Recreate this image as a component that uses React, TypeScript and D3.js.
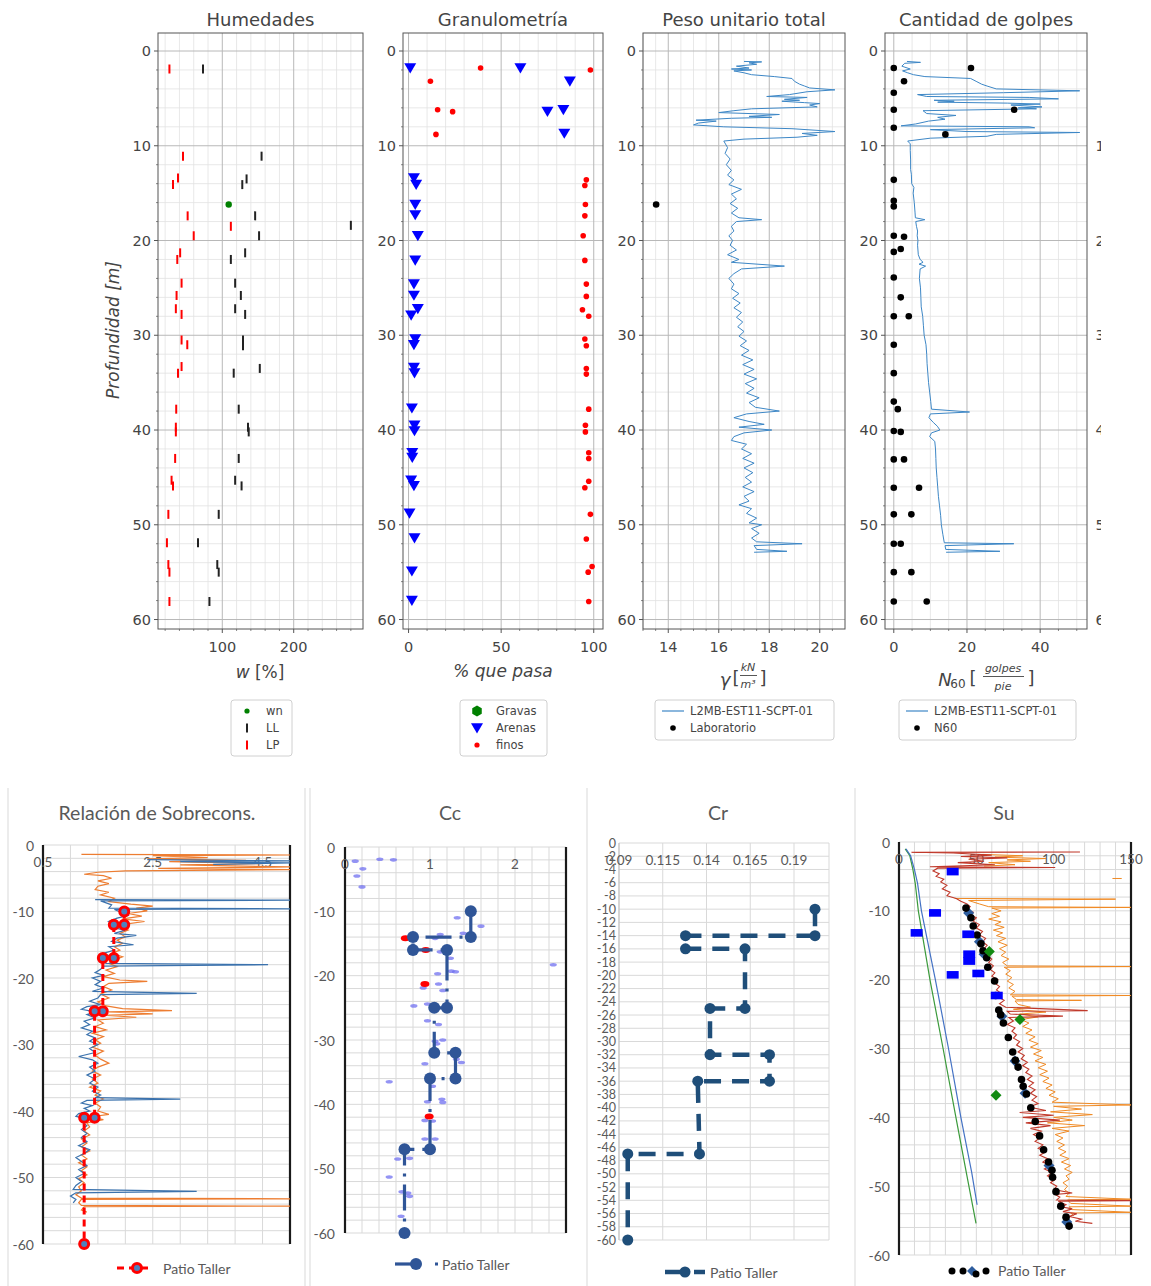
import React from "react";
import * as d3 from "d3";

type P = [number, number];
type G = P | null;

// ================= TOP ROW DATA =================
// markers: [value, depth m]
const humLL: P[] = [[73,1.9],[155,11.1],[134,13.5],[128,14.1],[146,17.4],[280,18.4],[151.5,19.5],[132,21.3],[112,22],[118,24.5],[126,25.8],[118,27.2],[132,27.8],[129,30.5],[129,31.1],[152.5,33.5],[116,34],[123,37.8],[136,39.7],[137,40.2],[123,43],[118,45.3],[127,45.9],[95,48.9],[66,51.9],[93,54.2],[95,55],[82,58.1]];
const humLP: P[] = [[26,1.9],[45,11.1],[38,13.4],[31,14.1],[51.5,17.4],[112,18.5],[60,19.5],[41,21.3],[37,22],[43,24.5],[36,25.8],[35,27.2],[43,27.8],[43,30.5],[51,31],[43,33.3],[38,34],[35.5,37.8],[35,39.7],[35,40.2],[34,43],[29,45.3],[31,45.9],[24.5,48.9],[22.5,51.9],[24.5,54.2],[26,55],[26,58.1]];
const humWn: P[] = [[109,16.2]];

const granArenas: P[] = [[0.9,1.8],[60.4,1.8],[87.1,3.2],[75,6.4],[83.6,6.2],[84.1,8.7],[2.9,13.4],[4.1,14.1],[3.6,16.2],[3.6,17.3],[5,19.5],[3.6,22.1],[2.9,24.6],[2.9,25.8],[5,27.2],[1.4,27.9],[3.6,30.4],[2.9,31],[2.9,33.4],[3.2,34],[1.8,37.7],[3.2,39.5],[3.2,40.1],[2,42.4],[2,42.9],[1.4,45.3],[2.9,45.9],[0.5,48.8],[3.2,51.4],[1.8,54.9],[1.8,58]];
const granFinos: P[] = [[38.9,1.8],[98.2,2],[11.8,3.2],[15.7,6.2],[23.8,6.4],[14.8,8.8],[96,13.6],[95.2,14.2],[95.5,16.2],[95.2,17.4],[94.3,19.5],[95.2,22.1],[96,24.6],[96,25.9],[93.9,27.3],[97.3,28],[95.2,30.4],[96,31.1],[96,33.5],[96,34.1],[97.3,37.8],[95.5,39.5],[95.5,40.2],[97.3,42.4],[97.3,43],[97.3,45.4],[95.2,46.1],[98.2,48.9],[96,51.5],[99.1,54.4],[97,55],[97.3,58.1]];

const gammaLab: P[] = [[13.52,16.2]];
const n60Dots: P[] = [[0,1.8],[21.1,1.8],[2.8,3.2],[0,4.4],[0,6.2],[32.9,6.2],[0,8.1],[14.1,8.8],[0,13.6],[0,15.8],[0,16.4],[0,19.5],[2.8,19.6],[1.9,20.9],[0,21.2],[0,23.9],[1.9,26],[0,28],[4.1,28],[0,31],[0,34],[0,37],[1.1,37.8],[0,40.1],[1.9,40.2],[0,43.1],[2.8,43.1],[0,46.1],[6.9,46.1],[0,48.9],[4.8,48.9],[0,52],[1.9,52],[0,55],[4.8,55],[0,58.1],[9,58.1]];

// profiles: [depth m, value]
const gammaProfile: P[] = [[1.1,17.0],[1.15,17.7],[1.25,17.2],[1.4,17.5],[1.6,16.7],[1.8,17.2],[1.9,16.5],[2.0,17.3],[2.1,16.6],[2.3,17.0],[2.5,17.3],[2.7,18.2],[2.9,18.9],[3.2,19.0],[3.5,19.2],[3.7,19.4],[3.9,19.6],[4.1,20.6],[4.3,19.5],[4.6,18.8],[4.8,17.9],[4.9,19.5],[5.1,18.6],[5.2,19.2],[5.3,18.5],[5.45,19.4],[5.55,20.0],[5.7,19.6],[5.9,19.9],[6.1,17.3],[6.3,16.6],[6.5,16.0],[6.7,18.4],[6.9,17.2],[7.0,18.1],[7.1,16.5],[7.3,15.1],[7.4,15.9],[7.6,15.2],[7.8,15.0],[8.0,16.2],[8.2,18.9],[8.5,20.6],[8.7,19.3],[8.9,19.9],[9.1,19.1],[9.3,17.0],[9.5,16.2],[10.2,16.35],[10.8,16.25],[11.4,16.45],[12.0,16.3],[12.6,16.5],[13.1,16.35],[13.6,16.6],[14.1,16.4],[14.6,16.9],[15.1,16.5],[15.6,16.7],[16.1,16.45],[16.6,16.75],[17.1,16.5],[17.6,16.8],[17.8,17.7],[18.0,16.7],[18.5,16.5],[19.0,16.6],[19.5,16.4],[20.0,16.55],[20.5,16.45],[21.0,16.7],[21.5,16.35],[22.0,16.8],[22.3,16.5],[22.7,18.6],[23.0,16.9],[23.5,16.6],[24.0,16.4],[24.6,16.6],[25.1,16.5],[25.6,16.8],[26.1,16.55],[26.6,16.85],[27.1,16.6],[27.6,16.9],[28.1,16.7],[28.6,16.95],[29.1,16.75],[29.6,17.0],[30.1,16.8],[30.6,17.1],[31.1,16.85],[31.6,17.2],[32.1,16.9],[32.6,17.35],[33.1,16.95],[33.6,17.4],[34.1,17.0],[34.6,17.5],[35.1,17.05],[35.6,17.4],[36.1,17.1],[36.6,17.6],[37.1,17.2],[37.6,17.45],[38.0,18.4],[38.3,17.1],[38.7,16.6],[39.1,17.2],[39.4,17.8],[39.7,16.8],[40.0,18.1],[40.3,17.0],[40.7,16.6],[41.1,16.5],[41.5,17.1],[42.0,16.9],[42.5,17.3],[43.0,16.95],[43.5,17.4],[44.0,17.0],[44.5,17.35],[45.0,17.05],[45.5,17.3],[46.0,16.95],[46.5,17.4],[47.0,17.0],[47.5,17.2],[47.9,16.8],[48.3,17.3],[48.8,17.1],[49.3,17.5],[49.8,17.2],[50.0,17.7],[50.4,17.3],[50.9,17.6],[51.4,17.3],[51.8,17.5],[52.0,19.3],[52.2,17.4],[52.6,17.5],[52.8,18.7],[52.9,17.4]];

const n60Profile: P[] = [[1.1,3.6],[1.2,7.3],[1.3,3.0],[1.6,2.2],[1.9,4.5],[2.1,2.4],[2.3,3.8],[2.5,5.4],[2.7,8.5],[2.9,21.0],[3.2,22.5],[3.5,24.0],[3.7,25.5],[4.0,28.0],[4.2,50.8],[4.4,30.0],[4.6,6.5],[4.8,9.0],[4.9,37.0],[5.05,45.0],[5.2,11.0],[5.3,16.5],[5.4,12.0],[5.5,31.0],[5.6,40.0],[5.7,32.0],[5.9,40.5],[6.0,34.0],[6.1,39.0],[6.3,8.0],[6.6,9.0],[6.8,17.0],[7.0,12.0],[7.2,14.0],[7.4,9.5],[7.7,6.0],[7.9,2.0],[8.0,37.0],[8.1,38.5],[8.3,10.0],[8.5,20.0],[8.6,50.8],[8.8,28.0],[9.0,25.5],[9.2,10.0],[9.5,3.8],[9.8,4.5],[10.5,4.5],[11.5,4.6],[12.5,4.6],[13.0,4.8],[14.0,4.9],[14.4,5.5],[15.0,5.3],[16.0,5.6],[17.0,5.8],[17.6,5.9],[17.8,8.5],[18.0,6.0],[18.5,6.2],[19.0,6.5],[19.5,6.4],[20.0,6.6],[20.5,6.5],[21.5,6.7],[22.0,7.2],[22.3,8.0],[22.5,6.9],[22.7,8.7],[23.0,7.2],[24.0,7.0],[25.0,7.3],[26.0,7.4],[27.0,7.5],[28.0,7.9],[29.0,8.1],[30.0,8.3],[31.0,8.8],[32.0,9.0],[33.0,9.1],[34.0,9.3],[35.0,9.5],[36.0,9.8],[37.0,10.1],[37.8,10.3],[38.1,20.7],[38.3,10.0],[38.7,9.6],[39.2,10.8],[39.6,11.9],[40.0,12.6],[40.3,10.3],[40.7,9.8],[41.2,11.2],[42.0,11.4],[43.0,11.5],[44.0,11.6],[45.0,11.8],[46.0,12.0],[47.0,12.2],[48.0,12.5],[49.0,12.8],[50.0,13.0],[51.0,13.4],[51.9,13.8],[52.0,32.8],[52.2,14.0],[52.6,14.2],[52.8,29.0],[52.9,14.3]];

const yTickTop = [0, 10, 20, 30, 40, 50, 60];

// ================= BOTTOM ROW DATA =================
// step series: [value, depth]
const ocrPatio: P[] = [[1.98,-10],[1.98,-12],[1.79,-12],[1.79,-17],[1.59,-17],[1.59,-25],[1.44,-25],[1.44,-41],[1.25,-41],[1.25,-60]];
// noisy profiles: [depth, value], null = gap
const ocrBlue: G[] = [[-2.2,2.4],[-2.4,5.0],[-2.5,3.0],[-2.7,5.0],[-2.9,3.6],null,[-8.2,1.45],[-8.3,5.0],[-8.4,1.55],[-9.0,1.75],[-9.5,1.7],[-9.6,5.0],[-9.7,1.8],[-10.2,1.95],[-10.6,2.05],[-11.0,1.85],[-11.5,1.7],[-12.0,1.95],[-12.4,1.75],[-12.8,2.0],[-13.3,1.8],[-13.6,2.2],[-14.0,1.85],[-14.5,1.75],[-15.0,2.15],[-15.3,1.7],[-15.8,1.8],[-16.3,1.6],[-16.8,1.75],[-17.3,1.55],[-17.8,1.65],[-18.0,4.6],[-18.2,1.6],[-18.7,1.55],[-19.2,1.45],[-19.6,1.6],[-20.0,1.4],[-20.5,1.55],[-21.0,1.45],[-21.5,1.6],[-22.0,1.4],[-22.3,3.3],[-22.5,1.55],[-23.0,1.5],[-23.5,1.35],[-24.0,1.55],[-24.3,1.3],[-24.7,1.2],[-25.1,1.45],[-25.5,1.3],[-26.0,1.45],[-26.5,1.25],[-27.0,1.35],[-27.5,1.2],[-28.0,1.4],[-28.5,1.3],[-29.0,1.45],[-29.5,1.35],[-30.0,1.5],[-30.6,1.35],[-31.2,1.45],[-31.8,1.15],[-32.3,1.4],[-32.8,1.5],[-33.4,1.35],[-34.0,1.45],[-34.6,1.3],[-35.2,1.45],[-35.8,1.35],[-36.4,1.5],[-37.0,1.4],[-37.6,1.55],[-38.0,1.45],[-38.2,3.0],[-38.4,1.3],[-38.8,1.2],[-39.2,1.4],[-39.6,1.25],[-40.0,1.35],[-40.4,1.15],[-40.8,1.1],[-41.2,1.3],[-41.6,1.2],[-42.2,1.3],[-42.8,1.2],[-43.4,1.3],[-44.0,1.2],[-44.6,1.3],[-45.2,1.15],[-45.8,1.35],[-46.4,1.25],[-47.0,1.1],[-47.6,1.2],[-48.2,1.3],[-48.8,1.15],[-49.4,1.25],[-50.0,1.1],[-50.6,1.2],[-51.2,1.1],[-51.8,1.05],[-52.1,3.3],[-52.3,1.1],[-52.8,1.0],[-53.3,1.1],[-53.8,1.05]];
const ocrOrange: G[] = [[-1.4,1.2],[-1.5,5.0],[-1.6,2.5],[-1.9,3.5],[-2.1,2.4],[-2.3,4.2],[-2.5,2.8],[-2.8,4.5],[-3.0,3.0],[-3.3,5.0],[-3.5,2.6],[-3.7,5.0],[-3.9,2.0],[-4.1,1.5],[-4.4,1.25],[-4.6,1.6],[-5.0,1.75],[-5.4,1.5],[-5.8,1.7],[-6.2,1.5],[-6.7,1.45],[-7.1,1.7],[-7.5,1.55],[-8.0,1.8],[-8.5,1.7],[-8.9,2.1],[-9.2,2.5],[-9.5,2.2],[-9.9,2.4],[-10.3,2.05],[-10.7,2.3],[-11.1,1.95],[-11.5,2.35],[-11.9,2.0],[-12.3,1.85],[-12.8,2.05],[-13.3,1.9],[-13.8,2.0],[-14.3,1.85],[-14.8,1.95],[-15.3,1.8],[-15.8,1.9],[-16.3,1.75],[-16.8,1.95],[-17.3,1.8],[-17.8,1.7],[-18.3,1.85],[-18.8,1.65],[-19.3,1.8],[-19.8,1.6],[-20.3,1.9],[-20.5,2.4],[-20.8,1.7],[-21.3,1.6],[-21.8,1.75],[-22.4,1.55],[-23.0,1.7],[-23.6,1.5],[-24.2,1.65],[-24.6,1.95],[-24.9,2.85],[-25.1,1.7],[-25.4,2.5],[-25.6,1.6],[-25.9,2.2],[-26.3,1.5],[-26.8,1.6],[-27.3,1.45],[-27.8,1.65],[-28.3,1.4],[-28.8,1.6],[-29.3,1.45],[-29.8,1.55],[-30.4,1.4],[-31.0,1.6],[-31.6,1.45],[-32.2,1.55],[-32.8,1.7],[-33.4,1.5],[-34.0,1.4],[-34.6,1.55],[-35.2,1.4],[-35.8,1.5],[-36.4,1.35],[-37.0,1.55],[-37.6,1.45],[-38.2,1.6],[-38.8,1.45],[-39.4,1.55],[-40.0,1.5],[-40.5,1.7],[-40.9,1.35],[-41.3,1.6],[-41.8,1.3],[-42.4,1.35],[-43.0,1.25],[-43.6,1.35],[-44.2,1.2],[-44.8,1.3],[-45.4,1.2],[-46.0,1.35],[-46.6,1.2],[-47.2,1.3],[-47.8,1.15],[-48.4,1.3],[-49.0,1.2],[-49.6,1.3],[-50.2,1.15],[-50.8,1.25],[-51.4,1.15],[-52.0,1.2],[-52.6,1.1],[-53.1,1.2],[-53.2,5.0],[-53.3,1.2],[-53.8,1.15],[-54.2,1.2],[-54.3,5.0],[-54.4,1.25],[-54.9,1.2],[-55.2,1.3]];

const ccPatio: P[] = [[1.48,-10],[1.48,-14],[0.8,-14],[0.8,-16],[1.2,-16],[1.2,-25],[1.05,-25],[1.05,-32],[1.3,-32],[1.3,-36],[1.0,-36],[1.0,-47],[0.7,-47],[0.7,-60]];
const ccScatter: P[] = [[0.12,-2.2],[0.41,-1.9],[0.57,-2],[0.21,-3.4],[0.14,-4.5],[0.2,-6.2],[1.32,-11],[1.6,-12.3],[1.39,-13.4],[1.12,-13.6],[1.06,-14.2],[1.12,-16.3],[1.24,-17.3],[1.09,-19.7],[1.25,-19.3],[1.3,-19.4],[2.45,-18.3],[1.1,-21.3],[1.15,-22.3],[0.92,-21.9],[0.81,-24.7],[0.97,-24.4],[0.97,-27],[1.1,-27.6],[1.06,-30.2],[1.15,-30],[1.08,-30.6],[0.94,-33.7],[1.31,-33],[1.37,-33.5],[0.52,-36.5],[1.03,-37.2],[0.97,-39.6],[1.14,-39.2],[1.15,-39.7],[0.94,-42.5],[1.03,-42.6],[0.94,-45.4],[1.06,-45.4],[0.62,-48.5],[0.76,-48.4],[0.52,-51.3],[0.67,-53.6],[0.76,-54.3],[0.74,-53.8],[0.66,-57.4]];
const ccRed: P[] = [[0.71,-14.2],[0.95,-16],[0.94,-21.3],[0.99,-41.9]];

const crPatio: P[] = [[0.202,-10],[0.202,-14],[0.128,-14],[0.128,-16],[0.162,-16],[0.162,-25],[0.142,-25],[0.142,-32],[0.176,-32],[0.176,-36],[0.135,-36],[0.136,-47],[0.095,-47],[0.095,-60]];

const suDots: P[] = [[43.3,-9.6],[46.5,-11],[48,-12.2],[50.5,-13.5],[53,-14.8],[54.3,-15.8],[56.7,-16.8],[57.4,-18.2],[61.8,-20.2],[62.5,-22.3],[64.5,-24.4],[65.7,-25.1],[67.5,-26.3],[70.7,-28.4],[73.5,-30.5],[75.2,-31.7],[77,-32.7],[79.2,-34.5],[80.3,-35.5],[82.4,-36.6],[85.2,-38.6],[88.1,-40.6],[90.9,-42.7],[93.5,-44.7],[96.7,-46.5],[98.9,-47.7],[99.3,-48.7],[101.5,-50.8],[104.6,-52.9],[108,-54.5],[110,-55.8]];
const suDiamonds: P[] = [[45,-10.3],[52,-14.5],[55,-16.3],[66.5,-25.3],[75,-31.8],[81.5,-36.5],[97,-47],[108.5,-55.2]];
const suRects: P[] = [[34.7,-4.3],[23.3,-10.3],[11.4,-13.2],[44.8,-13.4],[45.4,-16.3],[45.4,-17.3],[34.7,-19.3],[51.3,-19.1],[63.2,-22.3]];
const suGreenPts: P[] = [[58.4,-15.9],[78.2,-25.8],[62.7,-36.8]];
const suGreenLine: P[] = [[-1,4],[-2,7],[-4,9],[-6,10.5],[-10,12.5],[-20,20],[-30,28.5],[-40,36.8],[-48,43.5],[-55.4,49.8]];
const suBlueLine: P[] = [[-1,4.5],[-2,7.5],[-4,10],[-6,12],[-10,14.5],[-20,23.5],[-30,32],[-40,40],[-48,47],[-52.7,50.5]];
const suRed: G[] = [[-1.45,117],[-1.5,8],[-1.6,35],[-1.9,60],[-2.1,40],[-2.3,70],[-2.5,45],[-2.8,55],[-3.0,38],[-3.3,62],[-3.6,20],[-3.7,101],[-3.8,25],[-4.2,22],[-4.6,26],[-5.0,24],[-5.4,29],[-5.8,27],[-6.3,31],[-6.8,28],[-7.3,33],[-7.8,31],[-8.2,37],[-8.6,40],[-9.0,44],[-9.4,46],[-9.8,43],[-10.2,48],[-10.6,46],[-11.0,50],[-11.5,48],[-12.0,52],[-12.5,50],[-13.0,54],[-13.5,52],[-14.0,56],[-14.5,54],[-15.0,57],[-15.5,55],[-16.0,59],[-16.5,57],[-17.0,60],[-17.5,58],[-18.0,61],[-18.5,59],[-19.0,62],[-19.5,60],[-20.0,64],[-20.5,62],[-21.0,65],[-21.5,63],[-22.0,66],[-22.5,64],[-23.0,68],[-23.5,65],[-24.0,69],[-24.5,122],[-24.6,70],[-25.0,72],[-25.3,106],[-25.5,71],[-26.0,74],[-26.5,70],[-27.0,75],[-27.5,73],[-28.0,76],[-28.5,74],[-29.0,78],[-29.5,76],[-30.0,80],[-30.5,77],[-31.0,81],[-31.5,79],[-32.0,83],[-32.5,80],[-33.0,84],[-33.5,82],[-34.0,86],[-34.5,83],[-35.0,87],[-35.5,84],[-36.0,88],[-36.5,85],[-37.0,89],[-37.5,86],[-38.0,90],[-38.5,84],[-39.0,95],[-39.3,78],[-39.7,100],[-40.0,80],[-40.4,104],[-40.8,82],[-41.2,98],[-41.6,85],[-42.0,92],[-42.5,87],[-43.0,91],[-43.5,88],[-44.0,93],[-44.5,90],[-45.0,95],[-45.5,91],[-46.0,96],[-46.5,93],[-47.0,98],[-47.5,94],[-48.0,99],[-48.5,96],[-49.0,101],[-49.5,98],[-50.0,102],[-50.5,100],[-51.0,112],[-51.2,101],[-51.6,104],[-52.0,102],[-52.1,150],[-52.2,103],[-52.7,108],[-53.0,105],[-53.3,112],[-53.7,106],[-54.0,115],[-54.4,110],[-54.8,118],[-55.1,114],[-55.4,125]];
const suOrange: G[] = [[-1.8,54],[-2.0,80],[-2.2,62],[-2.4,95],[-2.6,70],[-2.8,85],[-3.0,58],[-3.3,75],[-3.5,55],null,[-5.3,138],[-5.3,144],null,[-8.2,36],[-8.3,140],[-8.5,45],[-9.0,52],[-9.4,58],[-9.5,150],[-9.6,60],[-10.0,66],[-10.4,60],[-10.8,65],[-11.2,58],[-11.6,66],[-12.0,62],[-12.4,68],[-12.8,61],[-13.2,67],[-13.6,63],[-14.0,69],[-14.5,64],[-15.0,70],[-15.5,65],[-16.0,69],[-16.5,66],[-17.0,71],[-17.5,67],[-18.0,70],[-18.1,150],[-18.2,68],[-18.7,72],[-19.2,69],[-19.7,73],[-20.2,70],[-20.7,74],[-21.2,71],[-21.7,75],[-22.2,72],[-22.3,150],[-22.4,73],[-22.9,76],[-23.0,118],[-23.1,75],[-23.6,77],[-24.0,85],[-24.3,74],[-24.7,95],[-25.0,78],[-25.4,90],[-25.8,79],[-26.3,84],[-26.8,80],[-27.3,86],[-27.8,82],[-28.3,88],[-28.8,84],[-29.3,90],[-29.8,85],[-30.3,92],[-30.8,87],[-31.3,93],[-31.8,88],[-32.3,95],[-32.8,90],[-33.3,96],[-33.8,91],[-34.3,97],[-34.8,93],[-35.3,99],[-35.8,95],[-36.3,101],[-36.8,97],[-37.3,103],[-37.8,99],[-38.2,150],[-38.4,100],[-38.8,118],[-39.2,98],[-39.6,125],[-40.0,100],[-40.4,112],[-40.8,96],[-41.2,120],[-41.6,99],[-42.0,110],[-42.5,101],[-43.0,106],[-43.5,102],[-44.0,107],[-44.5,103],[-45.0,108],[-45.5,104],[-46.0,110],[-46.5,105],[-47.0,111],[-47.5,107],[-48.0,112],[-48.5,108],[-49.0,110],[-49.5,106],[-50.0,109],[-50.5,107],[-51.0,110],[-51.5,108],[-51.9,150],[-52.0,109],[-52.5,111],[-52.9,150],[-53.0,110],[-53.4,112],[-53.8,150],[-53.9,111],[-54.3,113]];

// ================= STYLE =================
const TOPF = "'DejaVu Sans', sans-serif";
const BOTF = "Lato, 'Open Sans', sans-serif";
const TXT = "#444";
const BTXT = "#595959";
const LINEBLUE = "#3d87c6";

const TOP_Y0 = 33, TOP_Y1 = 629;
const yTop = d3.scaleLinear().domain([-1.9, 61]).range([TOP_Y0, TOP_Y1]);

interface TopSpec {
  id: string; x0: number; x1: number; dom: [number, number];
  majors: number[]; minorStep: number; title: string; showYLabel?: boolean;
}

const topSpecs: TopSpec[] = [
  { id: "t1", x0: 158, x1: 363, dom: [10, 297], majors: [100, 200], minorStep: 20, title: "Humedades" },
  { id: "t2", x0: 403, x1: 603, dom: [-3, 105], majors: [0, 50, 100], minorStep: 10, title: "Granulometría" },
  { id: "t3", x0: 643, x1: 845, dom: [13.0, 21.0], majors: [14, 16, 18, 20], minorStep: 0.5, title: "Peso unitario total" },
  { id: "t4", x0: 885, x1: 1087, dom: [-2.4, 52.8], majors: [0, 20, 40], minorStep: 5, title: "Cantidad de golpes" },
];

function TopAxes({ p, render }: { p: TopSpec; render: (sx: d3.ScaleLinear<number, number>) => React.ReactNode }) {
  const sx = d3.scaleLinear().domain(p.dom).range([p.x0, p.x1]);
  const minors = d3.range(Math.ceil(p.dom[0] / p.minorStep) * p.minorStep, p.dom[1], p.minorStep)
    .filter((v) => !p.majors.some((m) => Math.abs(m - v) < 1e-6));
  const yMinors = d3.range(0, 61, 2).filter((v) => v % 10 !== 0);
  const cx = (p.x0 + p.x1) / 2;
  return (
    <g>
      <clipPath id={p.id}><rect x={p.x0} y={TOP_Y0} width={p.x1 - p.x0} height={TOP_Y1 - TOP_Y0} /></clipPath>
      {minors.map((v) => <line key={"vm" + v} x1={sx(v)} x2={sx(v)} y1={TOP_Y0} y2={TOP_Y1} stroke="#e2e2e2" strokeWidth={0.8} />)}
      {yMinors.map((v) => <line key={"hm" + v} x1={p.x0} x2={p.x1} y1={yTop(v)} y2={yTop(v)} stroke="#e2e2e2" strokeWidth={0.8} />)}
      {p.majors.map((v) => <line key={"vM" + v} x1={sx(v)} x2={sx(v)} y1={TOP_Y0} y2={TOP_Y1} stroke="#b8b8b8" strokeWidth={1} />)}
      {yTickTop.map((v) => <line key={"hM" + v} x1={p.x0} x2={p.x1} y1={yTop(v)} y2={yTop(v)} stroke="#b8b8b8" strokeWidth={1} />)}
      <g clipPath={`url(#${p.id})`}>{render(sx)}</g>
      <rect x={p.x0} y={TOP_Y0} width={p.x1 - p.x0} height={TOP_Y1 - TOP_Y0} fill="none" stroke="#555" strokeWidth={1} />
      {/* ticks */}
      {yTickTop.map((v) => <line key={"yt" + v} x1={p.x0 - 4} x2={p.x0} y1={yTop(v)} y2={yTop(v)} stroke="#555" />)}
      {yMinors.map((v) => <line key={"ytm" + v} x1={p.x0 - 2} x2={p.x0} y1={yTop(v)} y2={yTop(v)} stroke="#555" strokeWidth={0.7} />)}
      {p.majors.map((v) => <line key={"xt" + v} x1={sx(v)} x2={sx(v)} y1={TOP_Y1} y2={TOP_Y1 + 4} stroke="#555" />)}
      {minors.map((v) => <line key={"xtm" + v} x1={sx(v)} x2={sx(v)} y1={TOP_Y1} y2={TOP_Y1 + 2} stroke="#555" strokeWidth={0.7} />)}
      {yTickTop.map((v) => (
        <text key={"yl" + v} x={p.x0 - 7} y={yTop(v)} textAnchor="end" dominantBaseline="central" fontSize={14.5} fill={TXT} fontFamily={TOPF}>{v}</text>
      ))}
      {p.majors.map((v) => (
        <text key={"xl" + v} x={sx(v)} y={647} textAnchor="middle" dominantBaseline="central" fontSize={14.5} fill={TXT} fontFamily={TOPF}>{v}</text>
      ))}
      <text x={cx} y={19} textAnchor="middle" dominantBaseline="central" fontSize={18} fill={TXT} fontFamily={TOPF}>{p.title}</text>
    </g>
  );
}

function vbar(x: number, y: number, color: string, k: string) {
  return <line key={k} x1={x} x2={x} y1={y - 4.5} y2={y + 4.5} stroke={color} strokeWidth={2} />;
}
function triDown(x: number, y: number, k: string, s = 6) {
  return <path key={k} d={`M${x - s},${y - s * 0.8}L${x + s},${y - s * 0.8}L${x},${y + s * 0.9}Z`} fill="#0000ff" />;
}
function hexagon(x: number, y: number, r: number) {
  const pts = d3.range(6).map((i) => {
    const a = Math.PI / 2 + (i * Math.PI) / 3;
    return `${x + r * Math.cos(a)},${y + r * Math.sin(a)}`;
  });
  return <polygon points={pts.join(" ")} fill="#008000" />;
}
function diamond(x: number, y: number, r: number, fill: string, k: string) {
  return <path key={k} d={`M${x},${y - r}L${x + r},${y}L${x},${y + r}L${x - r},${y}Z`} fill={fill} />;
}

interface BotSpec {
  id: string; x0: number; x1: number; y0: number; y1: number; dom: [number, number];
  vGrid: number[]; xLabels: number[]; fmt: (v: number) => string; yStep: number; yLabelStep: number;
  yLabelEnd: number; yFont: number; dark: boolean; title: string; titleX: number;
}

function BotAxes({ p, render }: { p: BotSpec; render: (sx: d3.ScaleLinear<number, number>, sy: d3.ScaleLinear<number, number>) => React.ReactNode }) {
  const sx = d3.scaleLinear().domain(p.dom).range([p.x0, p.x1]);
  const sy = d3.scaleLinear().domain([0, -60]).range([p.y0, p.y1]);
  const hGrid = d3.range(0, -61, -p.yStep);
  const yLabs = d3.range(0, -61, -p.yLabelStep);
  return (
    <g>
      <clipPath id={p.id}><rect x={p.x0 - 6} y={p.y0 - 6} width={p.x1 - p.x0 + 12} height={p.y1 - p.y0 + 12} /></clipPath>
      {hGrid.map((v) => <line key={"h" + v} x1={p.x0} x2={p.x1} y1={sy(v)} y2={sy(v)} stroke="#d9d9d9" strokeWidth={1} />)}
      {p.vGrid.map((v) => <line key={"v" + v} x1={sx(v)} x2={sx(v)} y1={p.y0} y2={p.y1} stroke="#d9d9d9" strokeWidth={1} />)}
      {p.dark ? (
        <g>
          <line x1={p.x0} x2={p.x0} y1={p.y0} y2={p.y1} stroke="#1a1a1a" strokeWidth={2.2} />
          <line x1={p.x1} x2={p.x1} y1={p.y0} y2={p.y1} stroke="#1a1a1a" strokeWidth={2.2} />
        </g>
      ) : (
        <line x1={p.x0} x2={p.x0} y1={p.y0} y2={p.y1} stroke="#bfbfbf" strokeWidth={1} />
      )}
      {p.xLabels.map((v) => (
        <text key={"xl" + v} x={sx(v)} y={p.y0 + 17} textAnchor="middle" dominantBaseline="central" fontSize={13.5} fill={BTXT} fontFamily={BOTF}>{p.fmt(v)}</text>
      ))}
      {yLabs.map((v) => (
        <text key={"yl" + v} x={p.yLabelEnd} y={sy(v)} textAnchor="end" dominantBaseline="central" fontSize={p.yFont} fill={BTXT} fontFamily={BOTF}>{v === 0 ? "0" : v}</text>
      ))}
      <text x={p.titleX} y={812} textAnchor="middle" dominantBaseline="central" fontSize={19.5} fill={BTXT} fontFamily={BOTF}>{p.title}</text>
      <g clipPath={`url(#${p.id})`}>{render(sx, sy)}</g>
    </g>
  );
}

const botSpecs: BotSpec[] = [
  { id: "b1", x0: 43, x1: 290, y0: 845, y1: 1244, dom: [0.5, 5.0], vGrid: d3.range(0.5, 5.01, 0.5), xLabels: [0.5, 2.5, 4.5], fmt: (v) => v.toFixed(1), yStep: 2, yLabelStep: 10, yLabelEnd: 34, yFont: 14, dark: true, title: "Relación de Sobrecons.", titleX: 157 },
  { id: "b2", x0: 345, x1: 566, y0: 847, y1: 1233, dom: [0, 2.6], vGrid: d3.range(0, 2.61, 0.2), xLabels: [0, 1, 2], fmt: (v) => String(v), yStep: 2, yLabelStep: 10, yLabelEnd: 335, yFont: 14, dark: true, title: "Cc", titleX: 450 },
  { id: "b3", x0: 619, x1: 829, y0: 843, y1: 1240, dom: [0.09, 0.21], vGrid: [0.09, 0.115, 0.14, 0.165, 0.19, 0.21], xLabels: [0.09, 0.115, 0.14, 0.165, 0.19], fmt: (v) => String(v), yStep: 2, yLabelStep: 2, yLabelEnd: 616, yFont: 12.5, dark: false, title: "Cr", titleX: 718 },
  { id: "b4", x0: 899, x1: 1131, y0: 842, y1: 1255, dom: [0, 150], vGrid: d3.range(0, 151, 10), xLabels: [0, 50, 100, 150], fmt: (v) => String(v), yStep: 2, yLabelStep: 10, yLabelEnd: 890, yFont: 14, dark: true, title: "Su", titleX: 1004 },
];

export default function App() {
  const [t1, t2, t3, t4] = topSpecs;
  const [b1, b2, b3, b4] = botSpecs;
  const profLine = (sx: d3.ScaleLinear<number, number>, sy: (v: number) => number) =>
    d3.line<G>().defined((d) => d != null).x((d) => sx((d as P)[1])).y((d) => sy((d as P)[0]));
  const stepLine = (sx: d3.ScaleLinear<number, number>, sy: d3.ScaleLinear<number, number>) =>
    d3.line<P>().x((d) => sx(d[0])).y((d) => sy(d[1]));

  return (
    <svg width={1151} height={1286} style={{ position: "absolute", left: 0, top: 0, background: "#fff" }}>
      <rect width={1151} height={1286} fill="#fff" />

      {/* ---------- TOP ROW ---------- */}
      <TopAxes p={t1} render={(sx) => (
        <g>
          {humLL.map((d, i) => vbar(sx(d[0]), yTop(d[1]), "#222", "ll" + i))}
          {humLP.map((d, i) => vbar(sx(d[0]), yTop(d[1]), "#ff0000", "lp" + i))}
          {humWn.map((d, i) => <circle key={"wn" + i} cx={sx(d[0])} cy={yTop(d[1])} r={3.2} fill="#008000" />)}
        </g>
      )} />
      <TopAxes p={t2} render={(sx) => (
        <g>
          {granArenas.map((d, i) => triDown(sx(d[0]), yTop(d[1]), "ar" + i))}
          {granFinos.map((d, i) => <circle key={"fi" + i} cx={sx(d[0])} cy={yTop(d[1])} r={2.8} fill="#ff0000" />)}
        </g>
      )} />
      <TopAxes p={t3} render={(sx) => (
        <g>
          <path d={profLine(sx, yTop)(gammaProfile) || ""} fill="none" stroke={LINEBLUE} strokeWidth={1} />
          {gammaLab.map((d, i) => <circle key={"gl" + i} cx={sx(d[0])} cy={yTop(d[1])} r={3.3} fill="#000" />)}
        </g>
      )} />
      <TopAxes p={t4} render={(sx) => (
        <g>
          <path d={profLine(sx, yTop)(n60Profile) || ""} fill="none" stroke={LINEBLUE} strokeWidth={1} />
          {n60Dots.map((d, i) => <circle key={"nd" + i} cx={sx(d[0])} cy={yTop(d[1])} r={3.3} fill="#000" />)}
        </g>
      )} />

      {/* y label */}
      <text transform="translate(113,330) rotate(-90)" textAnchor="middle" dominantBaseline="central" fontSize={17} fontStyle="italic" fill={TXT} fontFamily={TOPF}>Profundidad [m]</text>

      {/* clipped labels of a fifth panel at the right edge */}
      <clipPath id="edgeclip"><rect x={1090} y={0} width={11} height={700} /></clipPath>
      <g clipPath="url(#edgeclip)">
        {yTickTop.filter((v) => v > 0).map((v) => (
          <text key={"ed" + v} x={1114} y={yTop(v)} textAnchor="end" dominantBaseline="central" fontSize={14.5} fill={TXT} fontFamily={TOPF}>{v}</text>
        ))}
      </g>

      {/* x labels top */}
      <g fontFamily={TOPF} fill={TXT}>
        <text x={260} y={672} textAnchor="middle" dominantBaseline="central" fontSize={17}>
          <tspan fontStyle="italic">w</tspan> [%]
        </text>
        <text x={503} y={671} textAnchor="middle" dominantBaseline="central" fontSize={17} fontStyle="italic">% que pasa</text>
        <text x={725} y={679} textAnchor="middle" dominantBaseline="central" fontSize={18} fontStyle="italic">γ</text>
        <text x={736} y={677} textAnchor="middle" dominantBaseline="central" fontSize={18}>[</text>
        <text x={748} y={667} textAnchor="middle" dominantBaseline="central" fontSize={11} fontStyle="italic">kN</text>
        <line x1={740} x2={757} y1={675.5} y2={675.5} stroke={TXT} strokeWidth={0.9} />
        <text x={748} y={684} textAnchor="middle" dominantBaseline="central" fontSize={11} fontStyle="italic">m³</text>
        <text x={763} y={677} textAnchor="middle" dominantBaseline="central" fontSize={18}>]</text>

        <text x={945} y={679} textAnchor="middle" dominantBaseline="central" fontSize={18} fontStyle="italic">N</text>
        <text x={958} y={684} textAnchor="middle" dominantBaseline="central" fontSize={12}>60</text>
        <text x={973} y={677} textAnchor="middle" dominantBaseline="central" fontSize={18}>[</text>
        <text x={1003} y={668} textAnchor="middle" dominantBaseline="central" fontSize={11} fontStyle="italic">golpes</text>
        <line x1={983} x2={1024} y1={676.5} y2={676.5} stroke={TXT} strokeWidth={0.9} />
        <text x={1003} y={686} textAnchor="middle" dominantBaseline="central" fontSize={11} fontStyle="italic">pie</text>
        <text x={1031} y={677} textAnchor="middle" dominantBaseline="central" fontSize={18}>]</text>
      </g>

      {/* top legends */}
      <g fontFamily={TOPF} fontSize={11.5} fill={TXT}>
        <rect x={231} y={700} width={61} height={56} rx={3} fill="#fff" stroke="#d0d0d0" />
        <circle cx={247} cy={711} r={2.6} fill="#008000" />
        {vbar(247, 728, "#222", "lgll")}
        {vbar(247, 745, "#ff0000", "lglp")}
        <text x={266} y={711} dominantBaseline="central">wn</text>
        <text x={266} y={728} dominantBaseline="central">LL</text>
        <text x={266} y={745} dominantBaseline="central">LP</text>

        <rect x={460} y={700} width={87} height={56} rx={3} fill="#fff" stroke="#d0d0d0" />
        {hexagon(477, 711, 5.5)}
        {triDown(477, 728, "lgar")}
        <circle cx={477} cy={745} r={2.6} fill="#ff0000" />
        <text x={496} y={711} dominantBaseline="central">Gravas</text>
        <text x={496} y={728} dominantBaseline="central">Arenas</text>
        <text x={496} y={745} dominantBaseline="central">finos</text>

        <rect x={655} y={700} width={179} height={40} rx={3} fill="#fff" stroke="#d0d0d0" />
        <line x1={662} x2={684} y1={711} y2={711} stroke={LINEBLUE} strokeWidth={1.2} />
        <circle cx={673} cy={728} r={2.8} fill="#000" />
        <text x={690} y={711} dominantBaseline="central">L2MB-EST11-SCPT-01</text>
        <text x={690} y={728} dominantBaseline="central">Laboratorio</text>

        <rect x={899} y={700} width={177} height={40} rx={3} fill="#fff" stroke="#d0d0d0" />
        <line x1={906} x2={928} y1={711} y2={711} stroke={LINEBLUE} strokeWidth={1.2} />
        <circle cx={917} cy={728} r={2.8} fill="#000" />
        <text x={934} y={711} dominantBaseline="central">L2MB-EST11-SCPT-01</text>
        <text x={934} y={728} dominantBaseline="central">N60</text>
      </g>

      {/* ---------- BOTTOM ROW ---------- */}
      {[8, 305, 310, 587, 855].map((x) => (
        <line key={"bd" + x} x1={x} x2={x} y1={788} y2={1286} stroke="#d9d9d9" strokeWidth={1} />
      ))}

      <BotAxes p={b1} render={(sx, sy) => (
        <g>
          <path d={profLine(sx, sy)(ocrOrange) || ""} fill="none" stroke="#ed7d31" strokeWidth={1.2} />
          <path d={profLine(sx, sy)(ocrBlue) || ""} fill="none" stroke="#3b72ad" strokeWidth={1.2} />
          <path d={stepLine(sx, sy)(ocrPatio) || ""} fill="none" stroke="#ff0000" strokeWidth={3} strokeDasharray="7,5" />
          {ocrPatio.map((d, i) => <circle key={"op" + i} cx={sx(d[0])} cy={sy(d[1])} r={4.5} fill="#4f81bd" stroke="#ff0000" strokeWidth={3} />)}
        </g>
      )} />

      <BotAxes p={b2} render={(sx, sy) => (
        <g>
          {ccScatter.map((d, i) => <ellipse key={"cs" + i} cx={sx(d[0])} cy={sy(d[1])} rx={3.6} ry={1.8} fill="#7070f0" opacity={0.75} />)}
          {ccRed.map((d, i) => <ellipse key={"cr" + i} cx={sx(d[0])} cy={sy(d[1])} rx={4.5} ry={3} fill="#ff0000" />)}
          <path d={stepLine(sx, sy)(ccPatio) || ""} fill="none" stroke="#2f5597" strokeWidth={3.2} strokeDasharray="26,8,3,8" />
          {ccPatio.map((d, i) => <circle key={"cp" + i} cx={sx(d[0])} cy={sy(d[1])} r={6} fill="#2f5597" />)}
        </g>
      )} />

      <BotAxes p={b3} render={(sx, sy) => (
        <g>
          <path d={stepLine(sx, sy)(crPatio) || ""} fill="none" stroke="#1f4e79" strokeWidth={4.5} strokeDasharray="17,11" />
          {crPatio.map((d, i) => <circle key={"crp" + i} cx={sx(d[0])} cy={sy(d[1])} r={5.5} fill="#1f4e79" />)}
        </g>
      )} />

      <BotAxes p={b4} render={(sx, sy) => (
        <g>
          <path d={profLine(sx, sy)(suGreenLine) || ""} fill="none" stroke="#3b9a3b" strokeWidth={1.2} />
          <path d={profLine(sx, sy)(suBlueLine) || ""} fill="none" stroke="#4472c4" strokeWidth={1.2} />
          <path d={profLine(sx, sy)(suOrange) || ""} fill="none" stroke="#f08a24" strokeWidth={1} />
          <path d={profLine(sx, sy)(suRed) || ""} fill="none" stroke="#c0392b" strokeWidth={1.1} />
          {suDiamonds.map((d, i) => diamond(sx(d[0]), sy(d[1]), 5.5, "#2e5d9e", "sd" + i))}
          {suDots.map((d, i) => <circle key={"su" + i} cx={sx(d[0])} cy={sy(d[1])} r={3.8} fill="#000" />)}
          {suRects.map((d, i) => <rect key={"sr" + i} x={sx(d[0]) - 6} y={sy(d[1]) - 3.8} width={12} height={7.6} fill="#0000ff" />)}
          {suGreenPts.map((d, i) => diamond(sx(d[0]), sy(d[1]), 5.5, "#128a12", "sg" + i))}
        </g>
      )} />

      {/* bottom legends */}
      <g fontFamily={BOTF} fontSize={14} fill={BTXT}>
        <line x1={117} x2={153} y1={1268} y2={1268} stroke="#ff0000" strokeWidth={3} strokeDasharray="7,5" />
        <circle cx={137} cy={1268} r={4.5} fill="#4f81bd" stroke="#ff0000" strokeWidth={3} />
        <text x={163} y={1268} dominantBaseline="central">Patio Taller</text>

        <line x1={395} x2={418} y1={1264} y2={1264} stroke="#2f5597" strokeWidth={3.2} />
        <circle cx={416} cy={1264} r={6} fill="#2f5597" />
        <rect x={435} y={1262.5} width={3} height={3} fill="#2f5597" />
        <text x={442} y={1264} dominantBaseline="central">Patio Taller</text>

        <line x1={665} x2={690} y1={1272} y2={1272} stroke="#1f4e79" strokeWidth={4.5} />
        <circle cx={685} cy={1272} r={5.5} fill="#1f4e79" />
        <line x1={694} x2={705} y1={1272} y2={1272} stroke="#1f4e79" strokeWidth={4.5} />
        <text x={710} y={1272} dominantBaseline="central">Patio Taller</text>

        <circle cx={952} cy={1271} r={3.5} fill="#000" />
        <circle cx={963} cy={1271} r={3.5} fill="#000" />
        {diamond(972, 1271, 5, "#2e5d9e", "lgd")}
        <circle cx={976} cy={1274} r={3.5} fill="#000" />
        <circle cx={986} cy={1271} r={3.5} fill="#000" />
        <text x={998} y={1270} dominantBaseline="central">Patio Taller</text>
      </g>
    </svg>
  );
}
